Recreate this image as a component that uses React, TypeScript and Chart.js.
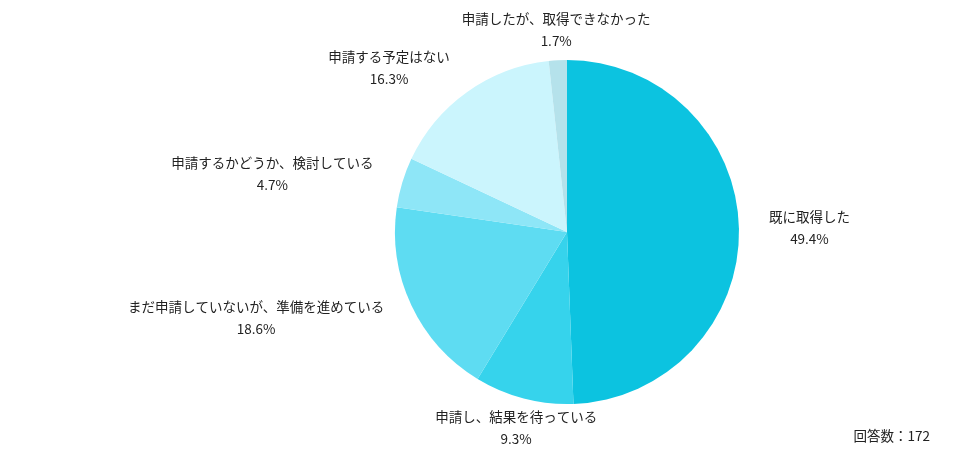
import React, { useEffect, useRef } from "react";
import { Chart, registerables } from "chart.js";

Chart.register(...registerables);

const categories = [
  "既に取得した",
  "申請し、結果を待っている",
  "まだ申請していないが、準備を進めている",
  "申請するかどうか、検討している",
  "申請する予定はない",
  "申請したが、取得できなかった",
];
const values = [49.4, 9.3, 18.6, 4.7, 16.3, 1.7];
const colors = ["#0CC3E0", "#36D3EC", "#5EDCF2", "#8EE6F7", "#CBF5FD", "#B5E2EB"];
const totalLabel = "回答数：172";

const FONT = '13.5px "Noto Sans CJK JP", "Noto Sans", sans-serif';

const labelPlugin = {
  id: "outerLabels",
  afterDraw(chart: any) {
    const ctx = chart.ctx;
    const meta = chart.getDatasetMeta(0);
    ctx.save();
    ctx.font = FONT;
    ctx.fillStyle = "#222";
    ctx.textBaseline = "middle";
    ctx.textAlign = "center";
    const lineH = 22;
    meta.data.forEach((arc: any, i: number) => {
      const { x, y, startAngle, endAngle, outerRadius } = arc.getProps(
        ["x", "y", "startAngle", "endAngle", "outerRadius"],
        true
      );
      const mid = (startAngle + endAngle) / 2;
      const dx = Math.cos(mid);
      const dy = Math.sin(mid);
      const R = outerRadius + 30;
      const ax = x + R * dx;
      const ay = y + R * dy;
      const lines = [categories[i], values[i].toFixed(1) + "%"];
      const w = Math.max(...lines.map((l) => ctx.measureText(l).width));
      let cx = ax;
      if (dx > 0.4) cx = ax + w / 2;
      else if (dx < -0.4) cx = ax - w / 2;
      lines.forEach((l, k) => {
        ctx.fillText(l, cx, ay + (k - 0.5) * lineH);
      });
    });
    ctx.textAlign = "right";
    ctx.fillText(totalLabel, chart.width - 46, chart.height - 23);
    ctx.restore();
  },
};

export default function App() {
  const ref = useRef<HTMLCanvasElement | null>(null);
  useEffect(() => {
    document.body.style.margin = "0";
    const chart = new Chart(ref.current as HTMLCanvasElement, {
      type: "pie",
      data: {
        labels: categories,
        datasets: [
          {
            data: values,
            backgroundColor: colors,
            borderWidth: 0,
          },
        ],
      },
      options: {
        animation: false,
        responsive: false,
        layout: { padding: { left: 395, right: 237, top: 60, bottom: 55 } },
        plugins: {
          legend: { display: false },
          tooltip: { enabled: false },
        },
      },
      plugins: [labelPlugin],
    });
    return () => chart.destroy();
  }, []);
  return (
    <div style={{ width: 976, height: 459, background: "#fff" }}>
      <canvas ref={ref} width={976} height={459} style={{ display: "block" }} />
    </div>
  );
}
